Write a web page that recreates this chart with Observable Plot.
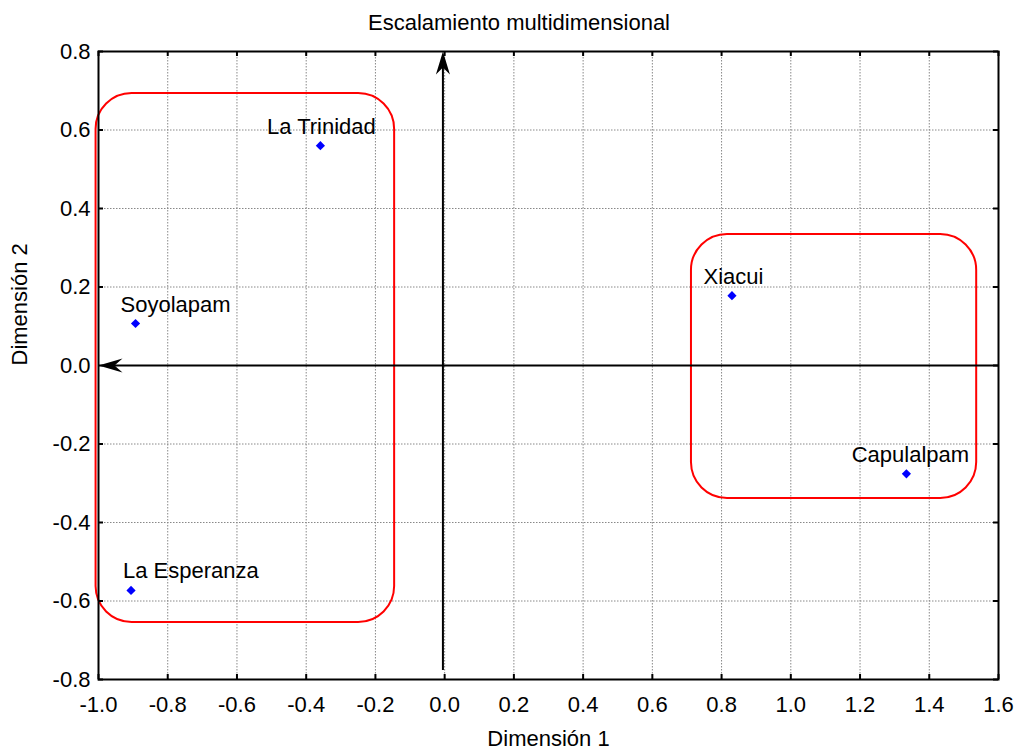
<!DOCTYPE html>
<html>
<head>
<meta charset="utf-8">
<script src="https://cdn.jsdelivr.net/npm/d3@7"></script>
<script src="https://cdn.jsdelivr.net/npm/@observablehq/plot@0.6"></script>
<style>
  body { margin: 0; background: #fff; }
  #chart { width: 1017px; font-family: "Liberation Sans", Arial, sans-serif; }
  #title {
    box-sizing: border-box; height: 40px; padding-top: 10px; padding-left: 21px;
    text-align: center; font-size: 22px; color: #000; line-height: normal;
  }
</style>
</head>
<body>
<div id="chart">
  <div id="title">Escalamiento multidimensional</div>
</div>
<script>
// Axis extents and tick values
const xDomain = [-1.0, 1.6];
const yDomain = [-0.8, 0.8];
const xTicks = [-1.0, -0.8, -0.6, -0.4, -0.2, 0.0, 0.2, 0.4, 0.6, 0.8, 1.0, 1.2, 1.4, 1.6];
const yTicks = [-0.8, -0.6, -0.4, -0.2, 0.0, 0.2, 0.4, 0.6, 0.8];

// MDS coordinates of each site
const sites = ["La Trinidad", "Soyolapam", "La Esperanza", "Xiacui", "Capulalpam"];
const dim1 = [-0.359, -0.893, -0.906, 0.830, 1.334];
const dim2 = [0.560, 0.107, -0.573, 0.178, -0.276];

// Cluster enclosures (data extents of each rounded box)
const groupX1 = [-1.007, 0.713];
const groupX2 = [-0.1445, 1.537];
const groupY1 = [-0.655, -0.339];
const groupY2 = [0.693, 0.334];

// Vertical reference arrow: x position and starting y
const vArrowX = [-0.005];
const vArrowY1 = [-0.777];

const W = 1017, H = 715;
const mL = 98, mR = 19, mT = 11, mB = 76;
const frameW = W - mL - mR, frameH = H - mT - mB;

// Notched arrowheads, tip at the origin
const arrowUp = {draw(ctx) { ctx.moveTo(0, 0); ctx.lineTo(-7, 23); ctx.lineTo(0, 16); ctx.lineTo(7, 23); ctx.closePath(); }};
const arrowLeft = {draw(ctx) { ctx.moveTo(0, 0); ctx.lineTo(24, -7); ctx.lineTo(16, 0); ctx.lineTo(24, 7); ctx.closePath(); }};
const diamond = {draw(ctx) { const r = 4.6; ctx.moveTo(0, -r); ctx.lineTo(r, 0); ctx.lineTo(0, r); ctx.lineTo(-r, 0); ctx.closePath(); }};

// Label placement per site: [textAnchor, dx]
const labelPlace = {
  "La Trinidad": ["middle", 1],
  "Soyolapam": ["start", -15],
  "La Esperanza": ["start", -8],
  "Xiacui": ["middle", 1.5],
  "Capulalpam": ["middle", 4]
};

const idx = sites.map((_, i) => i);
const groups = groupX1.map((_, i) => i);
const fmt = d => d.toFixed(1);
const FS = 22;

const plot = Plot.plot({
  width: W,
  height: H,
  marginLeft: mL, marginRight: mR, marginTop: mT, marginBottom: mB,
  style: {fontFamily: '"Liberation Sans", Arial, sans-serif', fontSize: FS + "px", color: "#000", background: "#fff"},
  x: {domain: xDomain, ticks: xTicks, tickFormat: fmt, tickSize: 0, tickPadding: 17, label: null},
  y: {domain: yDomain, ticks: yTicks, tickFormat: fmt, tickSize: 0, tickPadding: 8, label: null},
  marks: [
    // dotted grid
    Plot.ruleX(xTicks, {x: d => d, stroke: "#888", strokeDasharray: "1.5,1.5", strokeWidth: 1}),
    Plot.ruleY(yTicks, {y: d => d, stroke: "#888", strokeDasharray: "1.5,1.5", strokeWidth: 1}),
    // cluster boxes
    Plot.rect(groups, {x1: i => groupX1[i], x2: i => groupX2[i], y1: i => groupY1[i], y2: i => groupY2[i],
      rx: 36, fill: "none", stroke: "#ff0000", strokeWidth: 2}),
    // reference arrows through the origin
    Plot.ruleY([0], {x1: xDomain[1], x2: xDomain[0] + 0.03, stroke: "#000", strokeWidth: 2}),
    Plot.dot([0], {x: xDomain[0], y: 0, symbol: arrowLeft, fill: "#000", stroke: "none", r: 10}),
    Plot.ruleX(vArrowX, {x: d => d, y1: vArrowY1[0], y2: yDomain[1] - 0.03, stroke: "#000", strokeWidth: 2}),
    Plot.dot(vArrowX, {x: d => d, y: yDomain[1], symbol: arrowUp, fill: "#000", stroke: "none", r: 10}),
    // frame and inward ticks on all four sides
    Plot.frame({stroke: "#000", strokeWidth: 2}),
    Plot.tickX(xTicks, {x: d => d, insetTop: frameH - 5, stroke: "#000", strokeWidth: 2}),
    Plot.tickX(xTicks, {x: d => d, insetBottom: frameH - 5, stroke: "#000", strokeWidth: 2}),
    Plot.tickY(yTicks, {y: d => d, insetRight: frameW - 5, stroke: "#000", strokeWidth: 2}),
    Plot.tickY(yTicks, {y: d => d, insetLeft: frameW - 5, stroke: "#000", strokeWidth: 2}),
    // sites
    Plot.dot(idx, {x: i => dim1[i], y: i => dim2[i], symbol: diamond, fill: "#0000ff", stroke: "none", r: 5}),
    ...idx.map(i => Plot.text([i], {
      x: j => dim1[j], y: j => dim2[j], text: j => sites[j],
      textAnchor: labelPlace[sites[i]][0], dx: labelPlace[sites[i]][1], dy: -19,
      fill: "#000", fontSize: FS
    })),
    // axis titles
    Plot.text(["Dimensión 1"], {frameAnchor: "bottom", dy: 66, fill: "#000", fontSize: FS}),
    Plot.text(["Dimensión 2"], {frameAnchor: "left", dx: -79, rotate: -90, fill: "#000", fontSize: FS})
  ]
});

document.getElementById("chart").appendChild(plot);
</script>
</body>
</html>
